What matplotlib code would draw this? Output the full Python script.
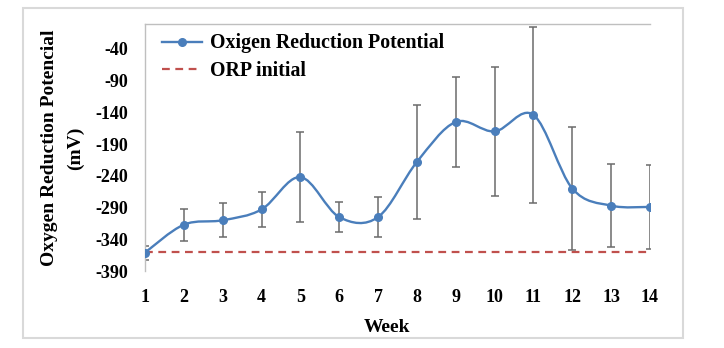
import numpy as np
import matplotlib
matplotlib.use("Agg")
import matplotlib.pyplot as plt
from matplotlib.path import Path
from matplotlib.patches import PathPatch, Rectangle
from matplotlib.lines import Line2D

plt.rcParams['font.family'] = ['Liberation Serif', 'DejaVu Serif']
plt.rcParams['font.weight'] = 'bold'
plt.rcParams['axes.unicode_minus'] = False

# data
weeks = [1, 2, 3, 4, 5, 6, 7, 8, 9, 10, 11, 12, 13, 14]
orp = [-361, -317, -310, -293, -242, -305, -305, -218, -155, -170, -144, -260, -287, -289]
orp_err = [11, 25, 27, 27, 71, 24, 32, 90, 71, 101, 139, 97, 65, 66]
orp_initial = -360
yticks = [-390, -340, -290, -240, -190, -140, -90, -40]

blue = '#4A7EBB'
red = '#C0504D'

fig = plt.figure(figsize=(7.24, 3.48), dpi=100)
ax = fig.add_axes([145 / 724, 1 - 271 / 348, 505 / 724, (271 - 23.6) / 348])

# outer chart border
fig.patches.append(Rectangle((23 / 724, 1 - 338 / 348), 660 / 724, 330 / 348,
                             transform=fig.transFigure, fill=False,
                             edgecolor='#D9D9D9', linewidth=1.5))

# error bars
ax.errorbar(weeks, orp, yerr=orp_err, fmt='none', ecolor='#6B6B6B',
            elinewidth=1.1, capsize=3, capthick=1.1, zorder=2)

# smoothed line (Excel style Bezier through the points)
x = np.array(weeks, dtype=float)
y = np.array(orp, dtype=float)
pts = np.column_stack([x, y])
ext = np.vstack([pts[0], pts, pts[-1]])
verts = [tuple(pts[0])]
codes = [Path.MOVETO]
for i in range(len(pts) - 1):
    p0, p1, p2, p3 = ext[i], ext[i + 1], ext[i + 2], ext[i + 3]
    c1 = p1 + (p2 - p0) / 6
    c2 = p2 - (p3 - p1) / 6
    verts += [tuple(c1), tuple(c2), tuple(p2)]
    codes += [Path.CURVE4] * 3
ax.add_patch(PathPatch(Path(verts, codes), facecolor='none', edgecolor=blue,
                       linewidth=1.7, zorder=3))
ax.plot(weeks, orp, 'o', color=blue, markersize=5.5, zorder=4)

# initial ORP
ax.plot([weeks[0], weeks[-1]], [orp_initial, orp_initial], color=red,
        linestyle=(0, (3.5, 2.5)), linewidth=1.6, zorder=2.5)

ax.set_xlim(1, 14)
ax.set_ylim(-390, 0)
ax.set_xticks(weeks)
ax.set_yticks(yticks)
ax.tick_params(axis='both', length=0, labelsize=13)
ax.tick_params(axis='y', pad=12)
ax.tick_params(axis='x', pad=13)
for lab in ax.get_xticklabels() + ax.get_yticklabels():
    lab.set_fontweight('bold')

for s in ['bottom', 'right']:
    ax.spines[s].set_visible(False)
for s in ['top', 'left']:
    ax.spines[s].set_color('#BFBFBF')
    ax.spines[s].set_linewidth(1.0)

handles = [Line2D([], [], color=blue, linewidth=1.7, marker='o', markersize=5.5),
           Line2D([], [], color=red, linewidth=1.6, linestyle=(0, (3.5, 2.5)))]
ax.legend(handles, ['Oxigen Reduction Potential', 'ORP initial'],
          loc='upper left', bbox_to_anchor=(0.034, 0.96), frameon=False,
          borderpad=0, borderaxespad=0, handlelength=2.0, handletextpad=0.4,
          labelspacing=0.4, prop={'size': 14.3, 'weight': 'bold'})

fig.text(387 / 724, 1 - 327 / 348, 'Week', ha='center', va='center',
         fontsize=14, fontweight='bold')
fig.text(50 / 724, 1 - 148 / 348, 'Oxygen Reduction Potencial', rotation=90,
         ha='center', va='center', fontsize=14, fontweight='bold')
fig.text(75 / 724, 1 - 148 / 348, '(mV)', rotation=90,
         ha='center', va='center', fontsize=14, fontweight='bold')

fig.savefig('out.png', dpi=100)
